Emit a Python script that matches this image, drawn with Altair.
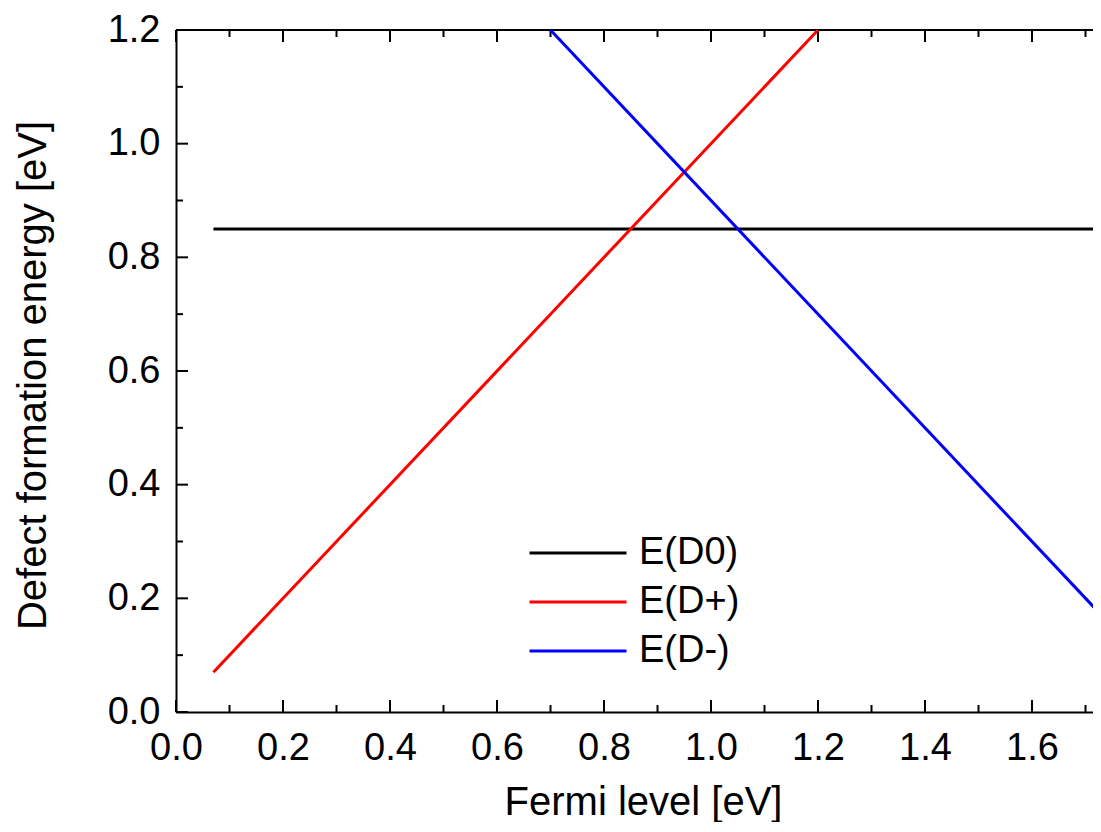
import altair as alt
import pandas as pd

# ---- data ----
series = ["E(D0)", "E(D+)", "E(D-)"]
colors = ["#000000", "#ff0000", "#0000ff"]

d0_x = [0.07, 1.75]
d0_y = [0.85, 0.85]
dp_x = [0.07, 1.2]
dp_y = [0.07, 1.2]
dm_x = [0.7, 1.75]
dm_y = [1.2, 0.15]

x_major = [0.0, 0.2, 0.4, 0.6, 0.8, 1.0, 1.2, 1.4, 1.6]
x_minor = [0.1, 0.3, 0.5, 0.7, 0.9, 1.1, 1.3, 1.5, 1.7]
y_major = [0.0, 0.2, 0.4, 0.6, 0.8, 1.0, 1.2]
y_minor = [0.1, 0.3, 0.5, 0.7, 0.9, 1.1]
top_edge = [1.2]

x_domain = [0.0, 1.714]
y_domain = [0.0, 1.2]

W, H = 917, 682
FONT = "Liberation Sans"

rows = []
for name, xs, ys in [(series[0], d0_x, d0_y), (series[1], dp_x, dp_y), (series[2], dm_x, dm_y)]:
    for i, (a, b) in enumerate(zip(xs, ys)):
        rows.append({"series": name, "x": a, "y": b, "o": i})
lines_df = pd.DataFrame(rows)

xscale = alt.Scale(domain=x_domain, nice=False, zero=False)
yscale = alt.Scale(domain=y_domain, nice=False, zero=False)

xaxis = alt.Axis(
    values=x_major, format=".1f", ticks=False, grid=False,
    domain=True, domainColor="black", domainWidth=2,
    labelFont=FONT, labelFontSize=38, labelColor="black", labelPadding=17,
    labelFlush=False,
    title="Fermi level [eV]", titleFont=FONT, titleFontSize=40,
    titleFontWeight="normal", titleColor="black",
    titleX=467, titleY=102, titleBaseline="alphabetic",
)
yaxis = alt.Axis(
    values=y_major, format=".1f", ticks=False, grid=False,
    domain=True, domainColor="black", domainWidth=2,
    labelFont=FONT, labelFontSize=38, labelColor="black", labelPadding=16,
    labelFlush=False,
    title="Defect formation energy [eV]", titleFont=FONT, titleFontSize=40,
    titleFontWeight="normal", titleColor="black",
    titleX=-131, titleY=345, titleBaseline="alphabetic", titleAngle=270,
)

X = lambda: alt.X("x:Q", scale=xscale, axis=xaxis)
Y = lambda: alt.Y("y:Q", scale=yscale, axis=yaxis)

lines = alt.Chart(lines_df).mark_line(strokeWidth=3, clip=True).encode(
    x=X(), y=Y(), order="o:Q",
    color=alt.Color(
        "series:N",
        scale=alt.Scale(domain=series, range=colors),
        legend=alt.Legend(
            orient="none", legendX=352, legendY=504, title=None,
            symbolType="stroke", symbolSize=9409, symbolStrokeWidth=3,
            clipHeight=38, rowPadding=11, labelOffset=11, padding=0,
            labelFont=FONT, labelFontSize=38, labelColor="black",
        ),
    ),
)

tick_style = dict(color="black", strokeWidth=2)

bx_major = alt.Chart(pd.DataFrame({"x": x_major})).mark_rule(**tick_style).encode(
    x=X(), y=alt.value(H), y2=alt.value(H - 12))
bx_minor = alt.Chart(pd.DataFrame({"x": x_minor})).mark_rule(**tick_style).encode(
    x=X(), y=alt.value(H), y2=alt.value(H - 7))
tx_major = alt.Chart(pd.DataFrame({"x": x_major})).mark_rule(**tick_style).encode(
    x=X(), y=alt.value(0), y2=alt.value(12))
tx_minor = alt.Chart(pd.DataFrame({"x": x_minor})).mark_rule(**tick_style).encode(
    x=X(), y=alt.value(0), y2=alt.value(7))
ly_major = alt.Chart(pd.DataFrame({"y": y_major})).mark_rule(**tick_style).encode(
    y=Y(), x=alt.value(0), x2=alt.value(12))
ly_minor = alt.Chart(pd.DataFrame({"y": y_minor})).mark_rule(**tick_style).encode(
    y=Y(), x=alt.value(0), x2=alt.value(7))
top_line = alt.Chart(pd.DataFrame({"y": top_edge})).mark_rule(**tick_style).encode(
    y=Y())

chart = alt.layer(
    top_line, bx_major, bx_minor, tx_major, tx_minor, ly_major, ly_minor, lines
).properties(
    width=W, height=H,
    autosize=alt.AutoSizeParams(type="none"),
    padding={"left": 168, "top": 22, "right": 0, "bottom": 110},
    background="white",
).configure_view(stroke=None).configure(font=FONT)

chart.save("out.html", embed_options={"renderer": "svg", "actions": False})
